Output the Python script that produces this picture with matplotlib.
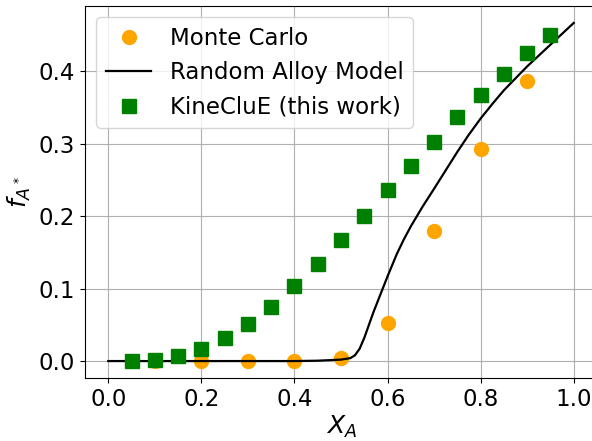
import matplotlib
matplotlib.use("Agg")
import matplotlib.pyplot as plt

# Monte Carlo
mc_x = [0.1, 0.2, 0.3, 0.4, 0.5, 0.6, 0.7, 0.8, 0.9]
mc_y = [0.000, 0.000, 0.000, 0.000, 0.004, 0.052, 0.179, 0.293, 0.387]

# Random Alloy Model
ram_x = [0.0, 0.1, 0.2, 0.3, 0.4, 0.45, 0.5, 0.52, 0.53, 0.54, 0.55, 0.57,
         0.6, 0.62, 0.635, 0.65, 0.675, 0.7, 0.75, 0.775, 0.8, 0.825, 0.85,
         0.9, 0.95, 1.0]
ram_y = [0.0, 0.0, 0.0, 0.0, 0.0, 0.0005, 0.002, 0.004, 0.008, 0.017, 0.032, 0.068,
         0.117, 0.148, 0.168, 0.186, 0.213, 0.238, 0.289, 0.313, 0.335, 0.355, 0.374,
         0.407, 0.437, 0.467]

# KineCluE (this work)
kc_x = [0.05, 0.10, 0.15, 0.20, 0.25, 0.30, 0.35, 0.40, 0.45, 0.50,
        0.55, 0.60, 0.65, 0.70, 0.75, 0.80, 0.85, 0.90, 0.95]
kc_y = [0.000, 0.002, 0.007, 0.017, 0.032, 0.051, 0.075, 0.103, 0.134, 0.167,
        0.201, 0.236, 0.270, 0.303, 0.337, 0.367, 0.397, 0.425, 0.451]

xticks = [0.0, 0.2, 0.4, 0.6, 0.8, 1.0]
yticks = [0.0, 0.1, 0.2, 0.3, 0.4]

fig = plt.figure(figsize=(5.92, 4.41), dpi=100)
ax = fig.add_axes([85/592, 63/441, 512/592, 372/441])

ax.plot(mc_x, mc_y, 'o', color='orange', markersize=10, label='Monte Carlo')
ax.plot(ram_x, ram_y, '-', color='black', linewidth=1.6, label='Random Alloy Model')
ax.plot(kc_x, kc_y, 's', color='green', markersize=10, label='KineCluE (this work)')

ax.set_xlim(-0.05, 1.05)
ax.set_ylim(-0.0234, 0.4904)
ax.set_xticks(xticks)
ax.set_yticks(yticks)
ax.set_xticklabels([f"{t:.1f}" for t in xticks])
ax.set_yticklabels([f"{t:.1f}" for t in yticks])
ax.tick_params(labelsize=16.5)
ax.grid(True)
ax.set_xlabel(r'$X_A$', fontsize=18, labelpad=2)
ax.set_ylabel(r'$f_{A^*}$', fontsize=18, labelpad=4)
ax.legend(loc='upper left', fontsize=16.5)

fig.savefig('out.png', dpi=100)
